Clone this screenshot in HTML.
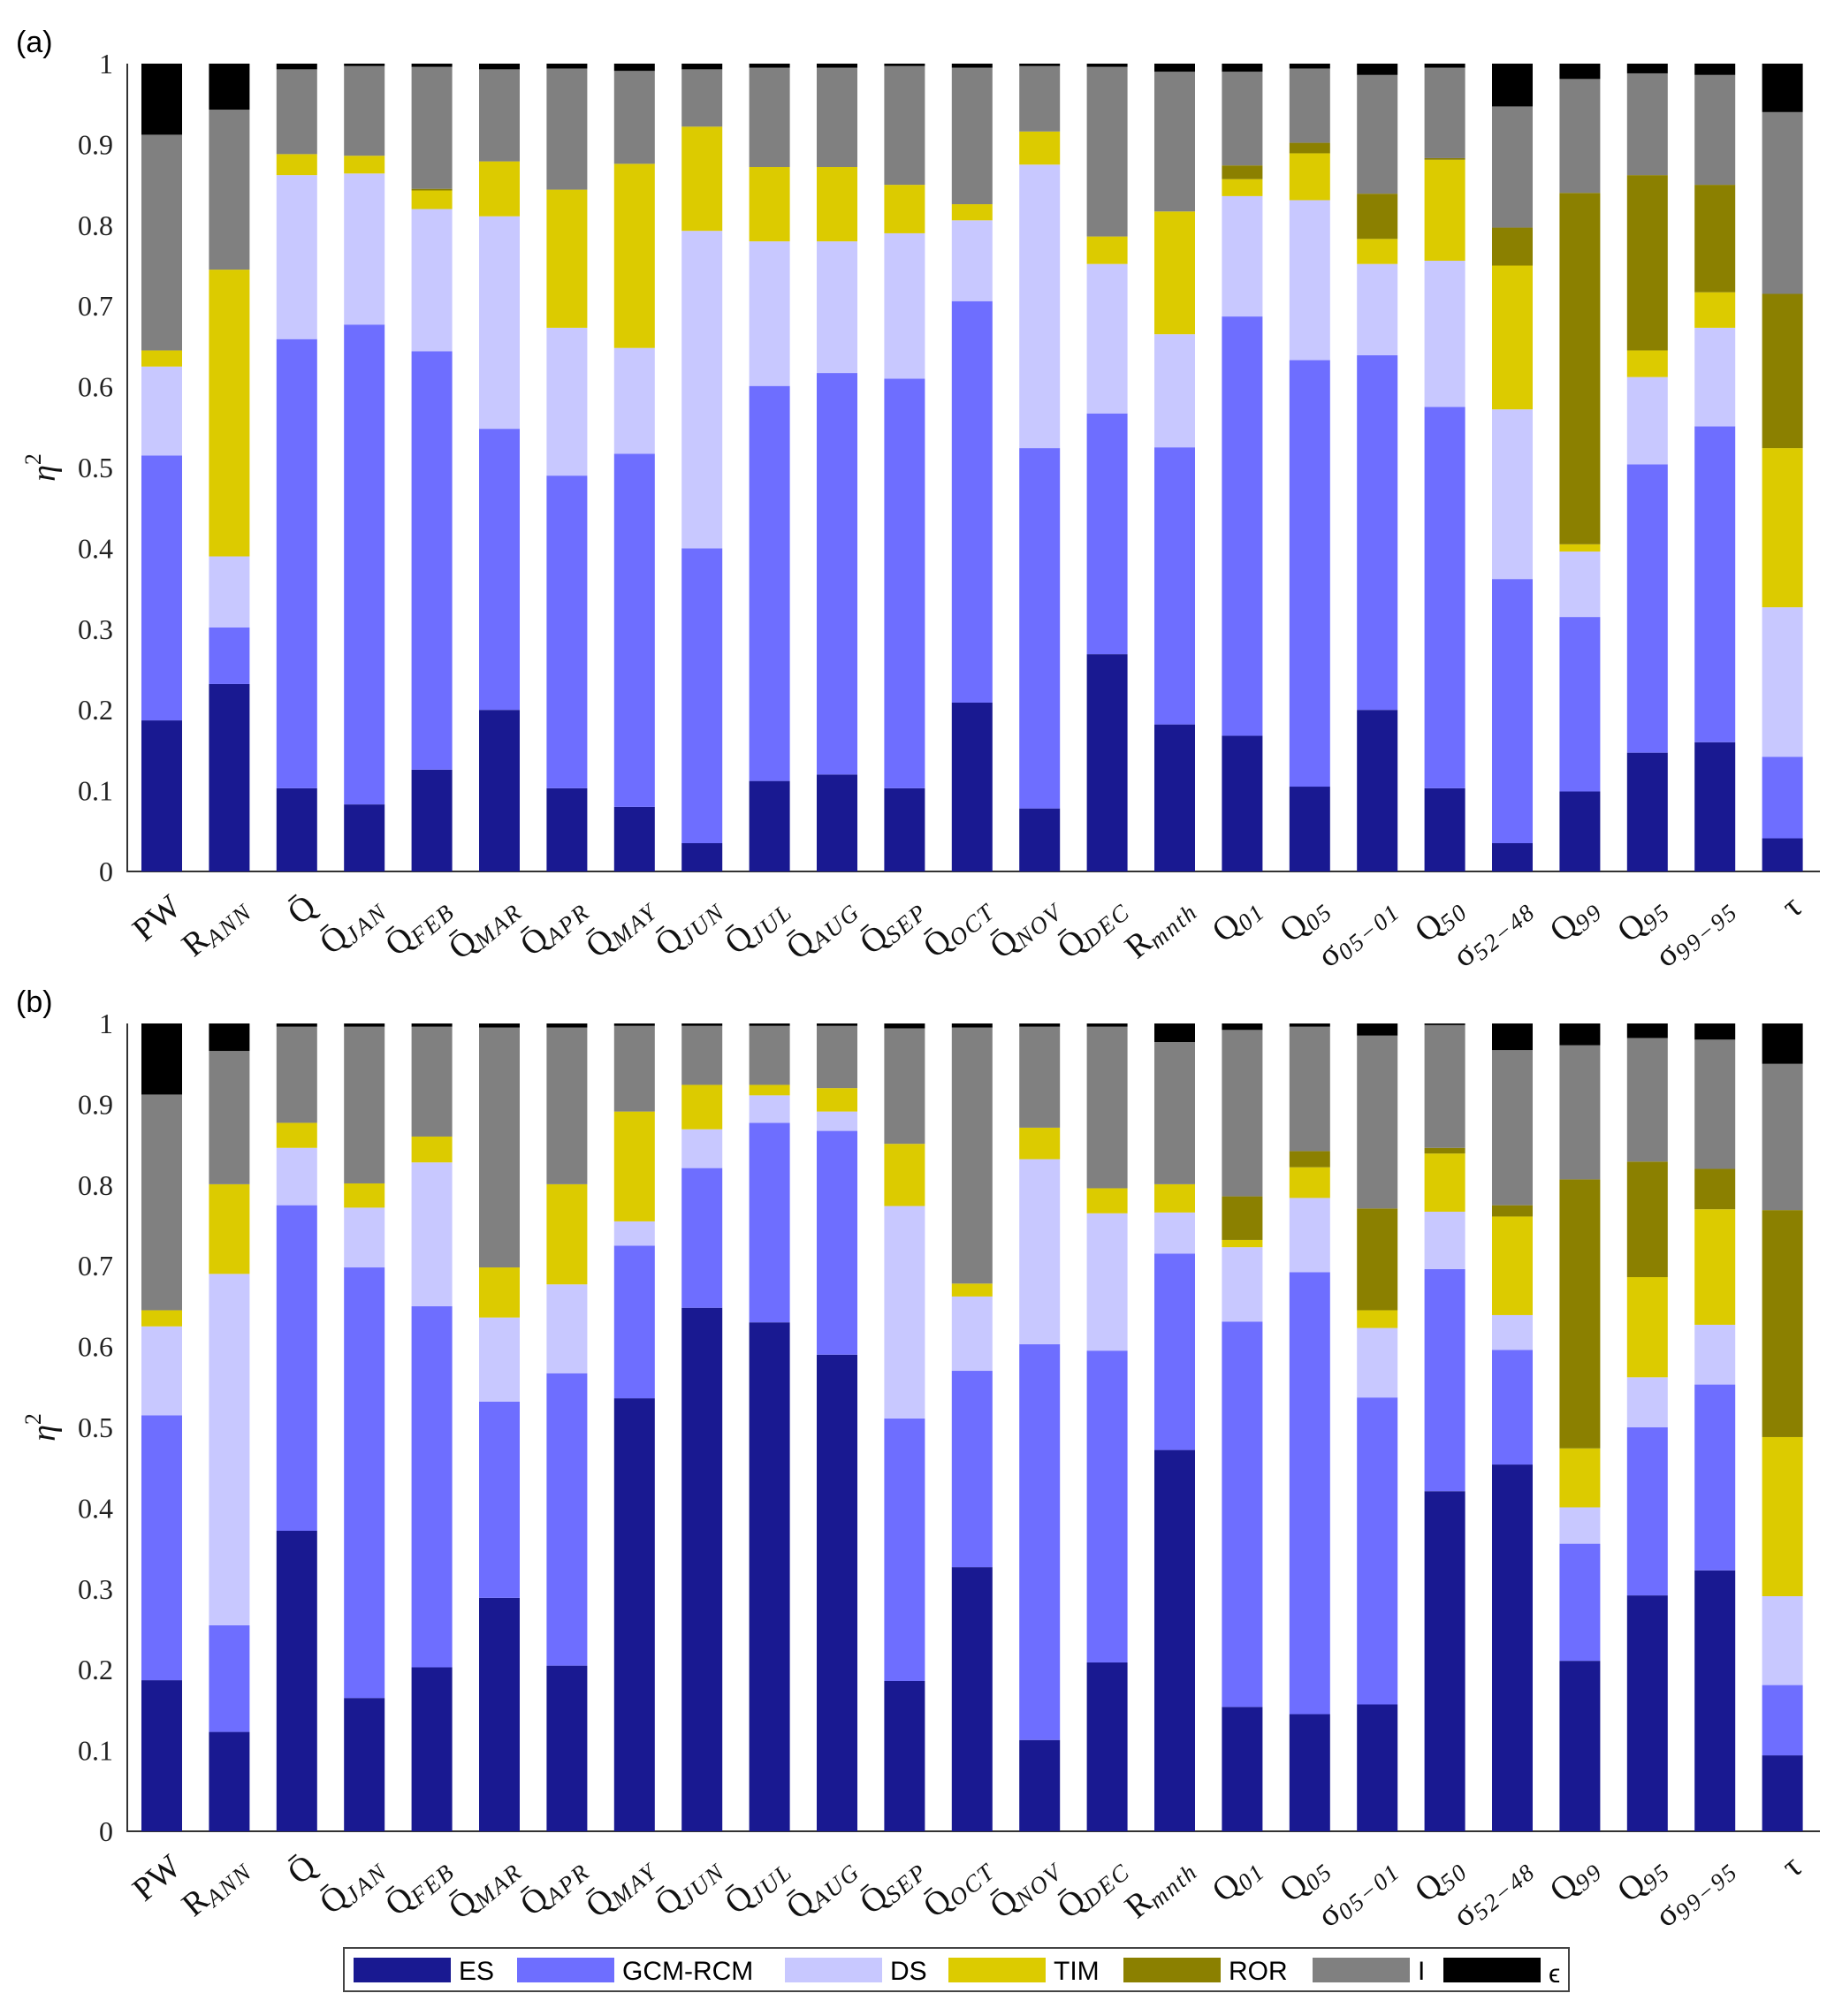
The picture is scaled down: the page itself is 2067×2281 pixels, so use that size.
<!DOCTYPE html>
<html><head><meta charset="utf-8"><style>
html,body{margin:0;padding:0;background:#fff}
svg{display:block}
.tk{font-family:"Liberation Serif",serif;font-size:32px;fill:#222}
.lb{font-family:"Liberation Serif",serif;font-size:38px;fill:#111}
.lg{font-family:"Liberation Sans",sans-serif;font-size:30px;fill:#000}
</style></head><body>
<svg id="chart" width="2067" height="2281" viewBox="0 0 2067 2281" xmlns="http://www.w3.org/2000/svg">
<text x="18" y="59" class="lg" style="font-size:34px">(a)</text>
<text x="18" y="1145" class="lg" style="font-size:34px">(b)</text>
<g id="pa"></g>
<g id="pb"></g>
<g id="legend"></g>
</svg>
<script>
const categories=["PW","R|ANN","Q̄","Q̄|JAN","Q̄|FEB","Q̄|MAR","Q̄|APR","Q̄|MAY","Q̄|JUN","Q̄|JUL","Q̄|AUG","Q̄|SEP","Q̄|OCT","Q̄|NOV","Q̄|DEC","R|mnth","Q|01","Q|05","σ|05−01","Q|50","σ|52−48","Q|99","Q|95","σ|99−95","τ"];
const seriesNames=["ES","GCM-RCM","DS","TIM","ROR","I","ϵ"];
const seriesColors=["#191991","#6e6eff","#c8c8ff","#dccb00","#8b8000","#808080","#000000"];
const yTicks=[0,0.1,0.2,0.3,0.4,0.5,0.6,0.7,0.8,0.9,1];
// Panel (a): cumulative top of each stacked series
const aES=[.187,.232,.103,.083,.126,.2,.103,.08,.035,.112,.12,.103,.209,.078,.269,.182,.168,.105,.2,.103,.035,.099,.147,.16,.041];
const aGCM=[.515,.302,.659,.677,.644,.548,.49,.517,.4,.601,.617,.61,.706,.524,.567,.525,.687,.633,.639,.575,.362,.315,.504,.551,.142];
const aDS=[.625,.39,.862,.864,.82,.811,.673,.648,.793,.78,.78,.79,.806,.875,.752,.665,.836,.831,.752,.756,.572,.396,.612,.673,.327];
const aTIM=[.645,.745,.888,.886,.843,.879,.844,.876,.922,.872,.872,.85,.826,.916,.786,.817,.857,.889,.783,.881,.75,.405,.645,.717,.524];
const aROR=[.645,.745,.888,.886,.845,.879,.844,.876,.922,.872,.872,.85,.826,.916,.786,.817,.874,.902,.839,.883,.797,.84,.862,.85,.715];
const aI=[.912,.943,.993,.997,.996,.993,.994,.991,.993,.995,.995,.997,.995,.997,.996,.99,.99,.994,.986,.995,.947,.981,.988,.986,.94];
// Panel (b)
const bES=[.187,.123,.372,.165,.203,.289,.205,.536,.648,.63,.59,.186,.327,.113,.209,.472,.154,.145,.157,.421,.454,.211,.292,.323,.094];
const bGCM=[.515,.255,.775,.698,.65,.532,.567,.725,.821,.877,.867,.511,.57,.603,.595,.715,.631,.692,.537,.696,.596,.356,.5,.553,.181];
const bDS=[.625,.69,.846,.772,.828,.636,.677,.755,.869,.911,.891,.774,.662,.832,.765,.766,.723,.784,.623,.767,.639,.401,.562,.627,.291];
const bTIM=[.645,.801,.877,.802,.86,.698,.801,.891,.924,.924,.92,.851,.678,.871,.796,.801,.732,.822,.645,.839,.761,.474,.686,.77,.488];
const bROR=[.645,.801,.877,.802,.86,.698,.801,.891,.924,.924,.92,.851,.678,.871,.796,.801,.786,.842,.771,.846,.775,.807,.829,.82,.769];
const bI=[.912,.966,.996,.996,.996,.995,.995,.997,.997,.997,.997,.994,.995,.996,.996,.977,.992,.996,.985,.998,.967,.973,.982,.98,.95];
const total=[1,1,1,1,1,1,1,1,1,1,1,1,1,1,1,1,1,1,1,1,1,1,1,1,1];

const NS="http://www.w3.org/2000/svg";
function mk(tag,attrs,parent){const e=document.createElementNS(NS,tag);for(const k in attrs)e.setAttribute(k,attrs[k]);parent.appendChild(e);return e;}
const X0=144,X1=2059,C0=183,PITCH=76.4,BW=46;
function xc(i){return C0+i*PITCH;}
function drawPanel(g,top,bottom,layers,tag){
  const y=v=>bottom-(bottom-top)*v;
  const ax=mk('path',{d:`M${X0} ${top} V${bottom} H${X1}`,fill:'none',stroke:'#333','stroke-width':2},g);
  
  
  yTicks.forEach(t=>{
    const tx=mk('text',{x:128,y:y(t)+11,'text-anchor':'end',class:'tk'},g);
    tx.textContent=String(t);
    
    
  });
  const yl=mk('text',{transform:`translate(62 ${(top+bottom)/2}) rotate(-90)`,'text-anchor':'middle',class:'lb','font-style':'italic'},g);
  yl.innerHTML='η<tspan dy="-16" font-size="26" font-style="normal">2</tspan>';
  
  
  categories.forEach((c,i)=>{
    let prev=0;
    layers.forEach((arr,s)=>{
      const v=arr[i];
      if(v>prev){
        const r=mk('rect',{x:xc(i)-BW/2,y:y(v),width:BW,height:y(prev)-y(v),fill:seriesColors[s]},g);
        
        
      }
      prev=Math.max(prev,v);
    });
    const parts=c.split('|');
    const t=mk('text',{transform:`translate(${xc(i)+24} ${bottom+44}) rotate(-40)`,'text-anchor':'end',class:'lb'},g);
    t.textContent=parts[0];
    if(parts[1]){const sp=mk('tspan',{'font-size':27,'font-style':'italic',dy:6,'letter-spacing':2},t);sp.textContent=parts[1];}
    
    
  });
}
drawPanel(document.getElementById('pa'),72,986,[aES,aGCM,aDS,aTIM,aROR,aI,total],'panel-a');
drawPanel(document.getElementById('pb'),1158,2072,[bES,bGCM,bDS,bTIM,bROR,bI,total],'panel-b');
const lg=document.getElementById('legend');
const box=mk('rect',{x:389,y:2204,width:1386,height:49,fill:'#fff',stroke:'#444','stroke-width':2},lg);


const swX=[400,585,888,1073,1271,1485,1633];
seriesNames.forEach((n,s)=>{
  const r=mk('rect',{x:swX[s],y:2215,width:110,height:28,fill:seriesColors[s]},lg);
  
  
  const t=mk('text',{x:swX[s]+119,y:2240,class:'lg'},lg);
  t.textContent=n;
  if(s===6){t.setAttribute('font-size','20');t.setAttribute('y','2243');t.setAttribute('font-family','Liberation Serif, serif');}
  
  
});
</script>
</body></html>
